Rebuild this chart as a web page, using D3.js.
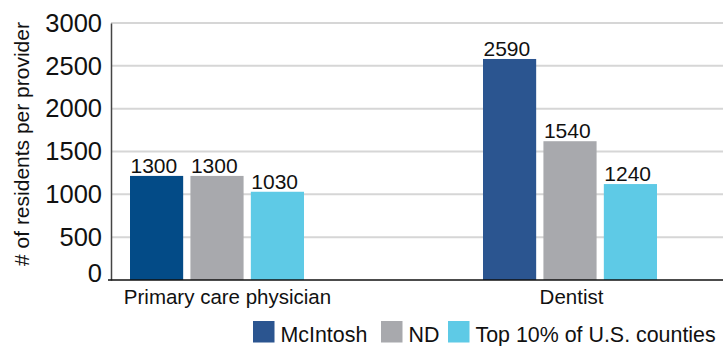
<!DOCTYPE html>
<html>
<head>
<meta charset="utf-8">
<script src="https://cdn.jsdelivr.net/npm/d3@7"></script>
<style>
  html, body { margin: 0; padding: 0; background: #ffffff; }
  svg { display: block; font-family: "Liberation Sans", Arial, Helvetica, sans-serif; }
</style>
</head>
<body>
<svg id="chart" width="725" height="346"></svg>
<script>
// ---- data ----
const categories = ["Primary care physician", "Dentist"];
const seriesNames = ["McIntosh", "ND", "Top 10% of U.S. counties"];
// bar heights as drawn in the picture
const mcintoshValues = [1215, 2580];
const ndValues = [1215, 1620];
const top10Values = [1030, 1120];
// printed data labels
const mcintoshLabels = ["1300", "2590"];
const ndLabels = ["1300", "1540"];
const top10Labels = ["1030", "1240"];
const yTicks = [0, 500, 1000, 1500, 2000, 2500, 3000];

// ---- styles ----
const seriesColors = ["#2b5590", "#a8a9ad", "#5ecae6"];
const firstBarColor = "#034b87";

const svg = d3.select("#chart");
const plot = { left: 111, right: 723, top: 23, bottom: 280 };

const y = d3.scaleLinear().domain([0, 3000]).range([plot.bottom, plot.top]);
const x = d3.scalePoint().domain(categories).range([217, 570]);
const groupWidth = 174;
const xs = d3.scaleBand().domain(seriesNames).range([-groupWidth / 2, groupWidth / 2]).paddingInner(0.12);

const valuesBySeries = [mcintoshValues, ndValues, top10Values];
const labelsBySeries = [mcintoshLabels, ndLabels, top10Labels];

// gridlines
svg.append("g").selectAll("line")
  .data(yTicks.filter(t => t > 0))
  .join("line")
  .attr("x1", plot.left).attr("x2", plot.right)
  .attr("y1", d => y(d)).attr("y2", d => y(d))
  .attr("stroke", "#d6d6d6").attr("stroke-width", 2);

// y-axis
const yAxis = d3.axisLeft(y).tickValues(yTicks).tickFormat(d3.format("d")).tickSize(0).tickPadding(9);
const gy = svg.append("g").attr("transform", `translate(${plot.left},0)`).call(yAxis);
gy.select(".domain").attr("stroke", "#444").attr("stroke-width", 1.5);
gy.selectAll("text")
  .attr("font-size", "25.5px")
  .attr("fill", "#111")
  .attr("font-family", "'Liberation Sans', Arial, sans-serif");
gy.selectAll(".tick").filter(d => d === 0).select("text").attr("dy", "0.05em");

// bars
const rows = [];
categories.forEach((c, ci) => {
  seriesNames.forEach((s, si) => {
    rows.push({ cat: c, ci, series: s, si, value: valuesBySeries[si][ci], label: labelsBySeries[si][ci] });
  });
});

svg.append("g").selectAll("rect")
  .data(rows)
  .join("rect")
  .attr("x", d => x(d.cat) + xs(d.series))
  .attr("width", xs.bandwidth())
  .attr("y", d => y(d.value))
  .attr("height", d => y(0) - y(d.value))
  .attr("fill", d => (d.ci === 0 && d.si === 0) ? firstBarColor : seriesColors[d.si]);

// data labels
svg.append("g").selectAll("text")
  .data(rows)
  .join("text")
  .attr("x", d => x(d.cat) + xs(d.series) + 0.5)
  .attr("y", d => y(d.value) - 3)
  .attr("font-size", "21px")
  .attr("fill", "#111")
  .text(d => d.label);

// baseline
svg.append("line")
  .attr("x1", plot.left - 3).attr("x2", plot.right)
  .attr("y1", y(0)).attr("y2", y(0))
  .attr("stroke", "#111").attr("stroke-width", 1.5);

// category labels
svg.append("g").selectAll("text")
  .data(categories)
  .join("text")
  .attr("x", (d, i) => x(d) + (i === 0 ? 10.5 : 1.5))
  .attr("y", 304)
  .attr("text-anchor", "middle")
  .attr("font-size", "20.5px")
  .attr("fill", "#111")
  .text(d => d);

// y-axis title
svg.append("text")
  .attr("transform", "translate(29,144) rotate(-90)")
  .attr("text-anchor", "middle")
  .attr("font-size", "21px")
  .attr("fill", "#111")
  .text("# of residents per provider");

// legend
const legendX = [253, 381, 448];
const leg = svg.append("g").selectAll("g")
  .data(seriesNames)
  .join("g")
  .attr("transform", (d, i) => `translate(${legendX[i]},321)`);
leg.append("rect").attr("width", 21.5).attr("height", 21.5).attr("fill", (d, i) => seriesColors[i]);
leg.append("text")
  .attr("x", 27.5).attr("y", 21)
  .attr("font-size", "21.4px")
  .attr("fill", "#111")
  .text(d => d);
</script>
</body>
</html>
